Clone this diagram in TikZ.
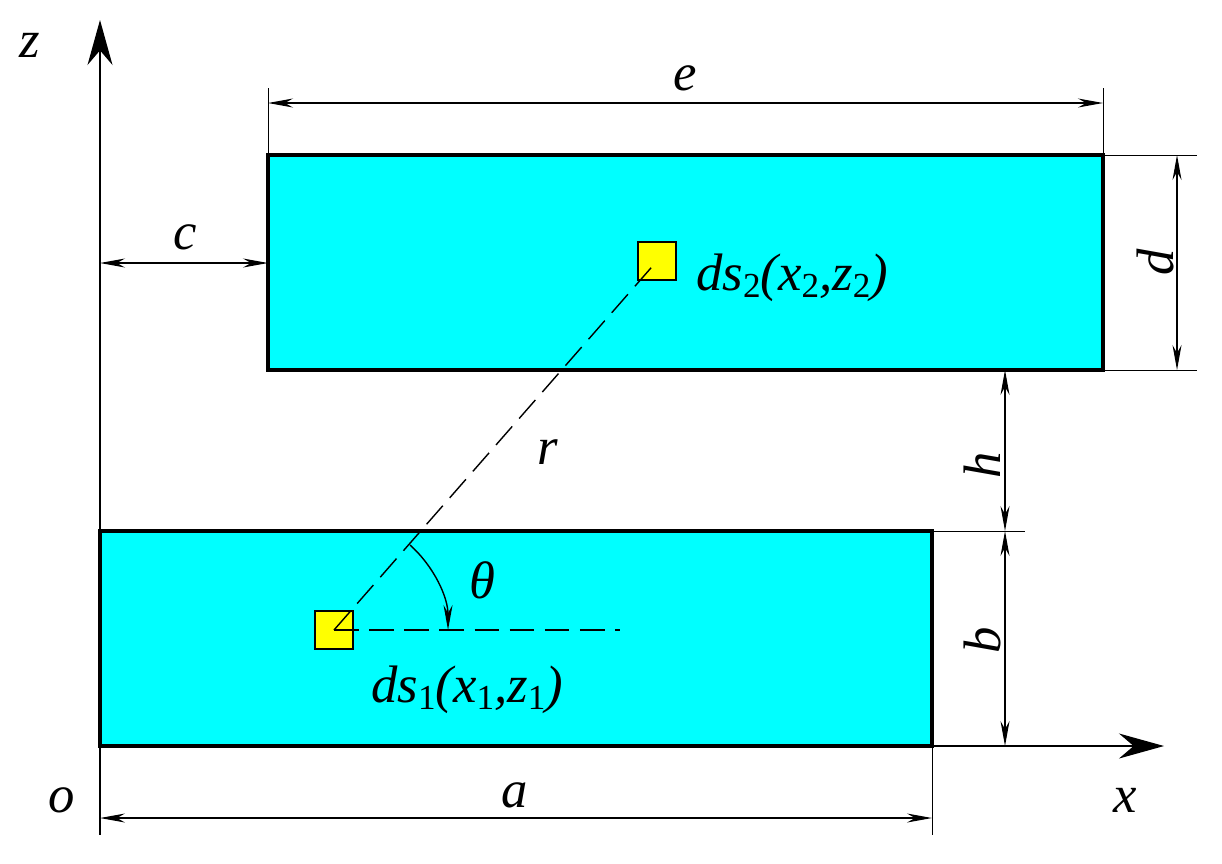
\documentclass[tikz,border=0pt]{standalone}
\usepackage{fontspec}
\setmainfont{Liberation Serif}
\newfontfamily\lbfont{Liberation Serif}
\usetikzlibrary{arrows.meta,positioning}
\definecolor{platecyan}{RGB}{0,255,255}
\definecolor{elemyellow}{RGB}{255,255,0}
\newcommand{\lowidx}[1]{\raisebox{-0.12em}{\upshape\fontsize{20}{22}\selectfont #1}}
\tikzset{
  plate/.style={draw, line width=2pt, fill=platecyan},
  elem/.style={draw, line width=1.2pt, fill=elemyellow, minimum size=0.76cm, inner sep=0pt},
  dim/.style={semithick, {Stealth[length=5mm,width=1.8mm]}-{Stealth[length=5mm,width=1.8mm]}},
  axis/.style={thick, -{Stealth[length=9mm,width=5mm]}},
  lbl/.style={font=\lbfont\fontsize{30}{32}\selectfont\itshape},
}
\begin{document}
\begin{tikzpicture}[x=0.02cm, y=-0.02cm]
  \useasboundingbox (0,0) rectangle (1222,863);

  % plates
  \draw[plate] (100,531) rectangle (932,746);
  \draw[plate] (268,155) rectangle (1103,370);

  % axes
  \coordinate (o) at (100,746);
  \draw[thick] (100,746) -- (100,835);
  \draw[axis] (o) -- (100,20) coordinate (ztip);
  \draw[axis] (o) -- (1164,746) coordinate (xtip);
  \node[lbl] (z) at (30,45) {z};
  \node[lbl] (olbl) at (62,800) {o};
  \node[lbl] (x) at (1125,800) {x};

  % elements and line r
  \node[elem] (s1) at (334,630) {};
  \node[elem] (s2) at (657,261) {};
  \draw[thick, dash pattern=on 14pt off 6pt] (s1.center) -- (s2.center);
  \draw[thick, dash pattern=on 14pt off 6pt] (s1.center) -- (620,630) coordinate (hend);
  \node[lbl] (r) at (548,452) {r};
  \draw[thick, -{Stealth[length=5mm,width=1.8mm]}] (410,545) arc[start angle=-48.2, end angle=0, radius=114];
  \node[lbl] (th) at (482,580) {θ};
  \node[lbl, anchor=west] (l2) at (690,278) {ds\lowidx{2}(x\lowidx{2},z\lowidx{2})};
  \node[lbl, anchor=west] (l1) at (365,690) {ds\lowidx{1}(x\lowidx{1},z\lowidx{1})};

  % dimension a
  \draw[thin] (932,746) -- (932,835);
  \draw[dim] (100,818) -- (932,818);
  \node[lbl] (a) at (515,795) {a};
  % dimension e
  \draw[thin] (268,88) -- (268,155);
  \draw[thin] (1103,88) -- (1103,155);
  \draw[dim] (268,103) -- (1103,103);
  \node[lbl] (e) at (685,78) {e};
  % dimension c
  \draw[dim] (100,263) -- (268,263);
  \node[lbl] (c) at (185,237) {c};
  % dimension d
  \draw[thin] (1103,155) -- (1197,155);
  \draw[thin] (1103,370) -- (1197,370);
  \draw[dim] (1177,155) -- (1177,370);
  \node[lbl, rotate=90] (d) at (1155,262) {d};
  % dimensions h and b
  \draw[thin] (932,531) -- (1025,531);
  \draw[dim] (1005,370) -- (1005,531);
  \draw[dim] (1005,531) -- (1005,746);
  \node[lbl, rotate=90] (h) at (982,465) {h};
  \node[lbl, rotate=90] (b) at (982,640) {b};
\end{tikzpicture}
\end{document}
